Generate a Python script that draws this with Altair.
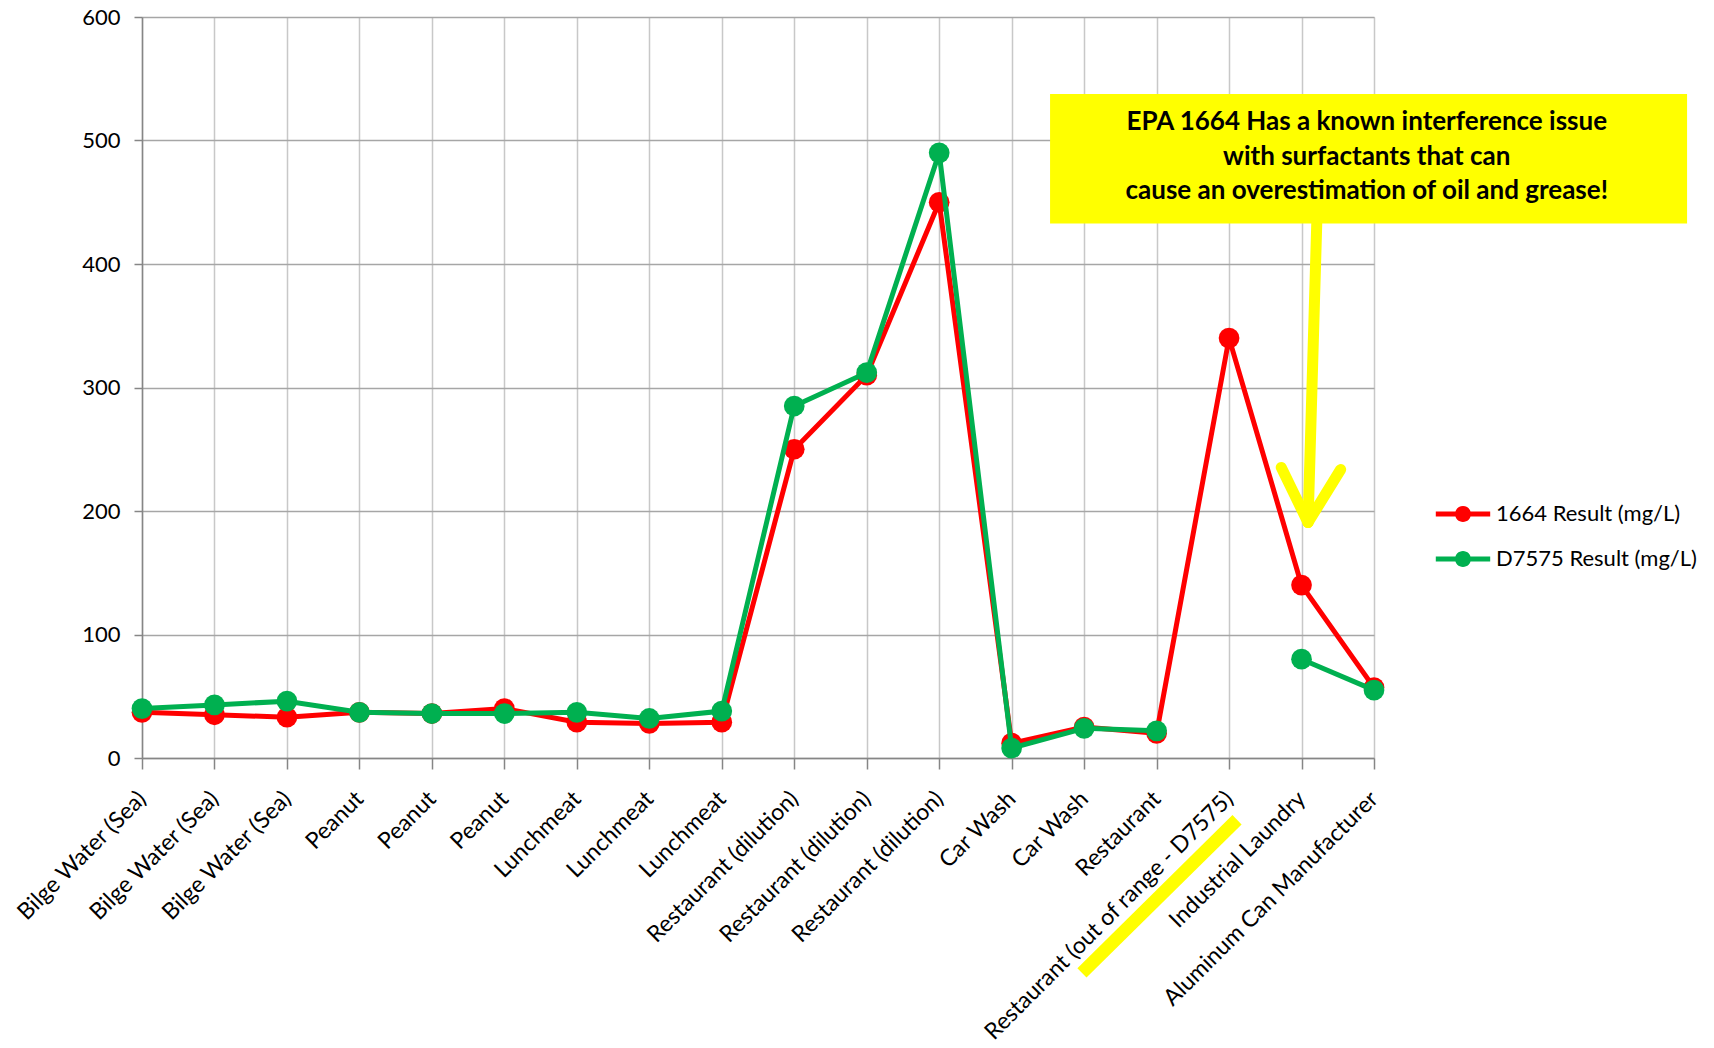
import json
import altair as alt
import pandas as pd

# ---------------- data ----------------
categories = [
    "Bilge Water (Sea)", "Bilge Water (Sea)", "Bilge Water (Sea)",
    "Peanut", "Peanut", "Peanut",
    "Lunchmeat", "Lunchmeat", "Lunchmeat",
    "Restaurant (dilution)", "Restaurant (dilution)", "Restaurant (dilution)",
    "Car Wash", "Car Wash", "Restaurant",
    "Restaurant (out of range - D7575)", "Industrial Laundry",
    "Aluminum Can Manufacturer",
]
epa1664 = [37, 35, 33, 37, 36, 40, 29, 28, 29, 250, 310, 450, 12, 25, 20, 340, 140, 57]
d7575 = [40, 43, 46, 37, 36, 36, 37, 32, 38, 285, 312, 490, 8, 24, 22, None, 80, 55]
series_names = ["1664 Result (mg/L)", "D7575 Result (mg/L)"]
series_colors = ["#ff0000", "#00b050"]
y_ticks = [0, 100, 200, 300, 400, 500, 600]
note_lines = [
    "EPA 1664  Has a known interference issue",
    "with surfactants that can",
    "cause an overestimation of oil and grease!",
]

# ---------------- tables ----------------
def series_table(values, name):
    rows, seg = [], 0
    for i, v in enumerate(values):
        if v is None:
            seg += 1
            continue
        rows.append({"idx": i, "cat": categories[i], "series": name, "value": v, "seg": seg})
    return pd.DataFrame(rows)

red_df = series_table(epa1664, series_names[0])
green_df = series_table(d7575, series_names[1])

n = len(categories)
x_scale = alt.Scale(domain=[0, n - 1], nice=False, zero=False)
y_scale = alt.Scale(domain=[0, 600], nice=False)
color_scale = alt.Scale(domain=series_names, range=series_colors)

cats_js = json.dumps(categories)
x_axis = alt.Axis(
    values=[i / 2 for i in range(2 * (n - 1) + 1)],
    labelExpr=f"datum.value % 1 === 0 ? {cats_js}[datum.value] : ''",
    title=None,
    grid=True,
    gridColor="#c8c8c8",
    gridWidth=1.5,
    domainColor="#868686",
    domainWidth=1.5,
    tickColor={"condition": {"test": "datum.value % 1 !== 0", "value": "transparent"}, "value": "#868686"},
    tickSize=11,
    tickWidth=1.5,
    labelAngle=315,
    labelAlign="right",
    labelBaseline="middle",
    labelPadding=26,
    labelFontSize=23,
    labelColor="#000000",
    labelFont="Lato",
    labelOverlap=False,
    labelBound=False,
    labelLimit=0,
)
y_axis = alt.Axis(
    values=y_ticks,
    title=None,
    grid=True,
    gridColor="#a6a6a6",
    gridWidth=1.5,
    domainColor="#868686",
    domainWidth=1.5,
    tickColor="#868686",
    tickSize=8,
    tickWidth=1.5,
    labelPadding=14,
    labelFontSize=22,
    labelColor="#000000",
    labelFont="Lato",
)

X = alt.X("idx:Q", scale=x_scale, axis=x_axis)
Y = alt.Y("value:Q", scale=y_scale, axis=y_axis)

legend_path = (
    "M -3.4 -0.32 L -0.95 -0.32 L -0.95 0.32 L -3.4 0.32 Z "
    "M 0.95 -0.32 L 3.4 -0.32 L 3.4 0.32 L 0.95 0.32 Z "
    "M 1 0 A 1 1 0 1 1 -1 0 A 1 1 0 1 1 1 0 Z"
)
legend = alt.Legend(
    title=None,
    orient="none",
    legendX=1310,
    legendY=486,
    symbolType=legend_path,
    symbolSize=256,
    symbolStrokeWidth=0,
    labelOffset=22,
    labelFontSize=22,
    labelFont="Lato",
    labelColor="#000000",
    labelLimit=0,
    rowPadding=23,
    padding=0,
)

def line_layer(df, color):
    return alt.Chart(df).mark_line(strokeWidth=5, color=color).encode(
        x=X, y=Y, detail="seg:N"
    )

def point_layer(df):
    return alt.Chart(df).mark_point(filled=True, size=430, opacity=1).encode(
        x=X, y=Y, color=alt.Color("series:N", scale=color_scale, legend=legend)
    )

# ---------------- annotations (data coordinates) ----------------
box_df = pd.DataFrame([{"x": 12.53, "x2": 21.32, "y": 537.7, "y2": 432.8}])
box = alt.Chart(box_df).mark_rect(color="#ffff00").encode(
    x=alt.X("x:Q", scale=x_scale), x2="x2:Q", y=alt.Y("y:Q", scale=y_scale), y2="y2:Q"
)
text_df = pd.DataFrame({"t": note_lines, "x": [16.9] * 3, "y": [515.0, 487.0, 459.5]})
note = alt.Chart(text_df).mark_text(
    font="Lato", fontSize=26, fontWeight="bold", color="#000000", align="center", baseline="middle"
).encode(x=alt.X("x:Q", scale=x_scale), y=alt.Y("y:Q", scale=y_scale), text="t:N")

arrow_df = pd.DataFrame([
    {"x": 16.21, "y": 432.8, "x2": 16.09, "y2": 190.7},
    {"x": 15.72, "y": 235.3, "x2": 16.09, "y2": 190.7},
    {"x": 16.54, "y": 233.6, "x2": 16.09, "y2": 190.7},
])
arrow = alt.Chart(arrow_df).mark_rule(color="#ffff00", strokeWidth=11, strokeCap="round").encode(
    x=alt.X("x:Q", scale=x_scale), y=alt.Y("y:Q", scale=y_scale), x2="x2:Q", y2="y2:Q"
)
hl_df = pd.DataFrame([{"x": 12.97, "y": -174.0, "x2": 15.11, "y2": -50.0}])
highlight = alt.Chart(hl_df).mark_rule(color="#ffff00", strokeWidth=13, strokeCap="butt").encode(
    x=alt.X("x:Q", scale=x_scale), y=alt.Y("y:Q", scale=y_scale), x2="x2:Q", y2="y2:Q"
)

chart = alt.layer(
    line_layer(red_df, series_colors[0]),
    point_layer(red_df),
    line_layer(green_df, series_colors[1]),
    point_layer(green_df),
    box,
    note,
    arrow,
    highlight,
).properties(
    width=1232,
    height=741,
    autosize=alt.AutoSizeParams(type="none"),
    padding={"left": 142, "top": 17, "right": 338, "bottom": 288},
).configure_view(strokeWidth=0).configure(background="white")

chart.save("out.html", embed_options={"renderer": "svg", "actions": False})
